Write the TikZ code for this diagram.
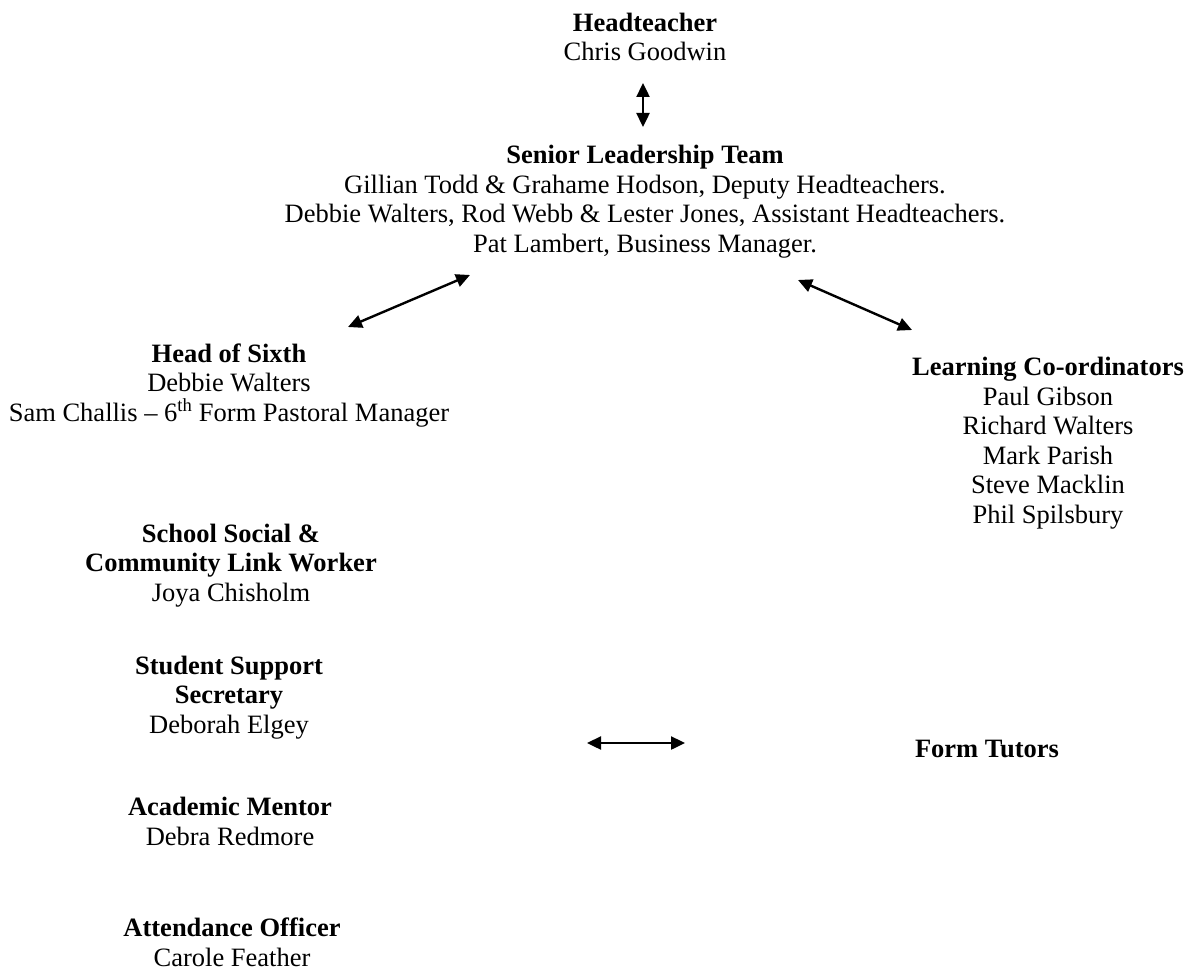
\documentclass[tikz,border=0pt]{standalone}
\usepackage{fontspec}
\setmainfont{Liberation Serif}
\usetikzlibrary{arrows.meta}
\def\th{\textsuperscript{th}}

\begin{document}
\begin{tikzpicture}[x=1pt,y=-1pt,line width=2.4pt,>={Triangle[length=14pt,width=13pt]},
    every node/.style={align=center,anchor=base,inner sep=0pt,font=\fontsize{26.5}{29.5}\selectfont}]

    \useasboundingbox (0,0) rectangle (1190,971);

    % top of the chart (nodes sit on the baseline of their last line)
    \node (HT) at (645,61) {\textbf{Headteacher}\\Chris Goodwin};
    \node (SLT) at (645,252) {\textbf{Senior Leadership Team}\\
        Gillian Todd \& Grahame Hodson, Deputy Headteachers.\\
        Debbie Walters, Rod Webb \& Lester Jones, Assistant Headteachers.\\
        Pat Lambert, Business Manager.};

    % left and right branches
    \node (HS) at (229,421) {\textbf{Head of Sixth}\\Debbie Walters\\Sam Challis -- 6\th{} Form Pastoral Manager};
    \node (LC) at (1048,523) {\textbf{Learning Co-ordinators}\\Paul Gibson\\Richard Walters\\Mark Parish\\Steve Macklin\\Phil Spilsbury};

    % support staff
    \node (SW) at (231,601) {\textbf{School Social \&}\\\textbf{Community Link Worker}\\Joya Chisholm};
    \node (SS) at (229,733) {\textbf{Student Support}\\\textbf{Secretary}\\Deborah Elgey};
    \node (AM) at (230,845) {\textbf{Academic Mentor}\\Debra Redmore};
    \node (AO) at (232,966) {\textbf{Attendance Officer}\\Carole Feather};
    \node (FT) at (987,757) {\textbf{Form Tutors}};

    % arrow ends
    \coordinate (HT-s) at (643,83);
    \coordinate (SLT-n) at (643,127);
    \coordinate (SLT-sw) at (470,275);
    \coordinate (HS-ne) at (348,327);
    \coordinate (SLT-se) at (798,280);
    \coordinate (LC-nw) at (912,330);
    \coordinate (SS-e) at (587,743);
    \coordinate (FT-w) at (685,743);

    \draw[<->] (HT-s) -- (SLT-n);
    \draw[<->] (HS-ne) -- (SLT-sw);
    \draw[<->] (SLT-se) -- (LC-nw);
    \draw[<->] (SS-e) -- (FT-w);

\end{tikzpicture}
\end{document}
